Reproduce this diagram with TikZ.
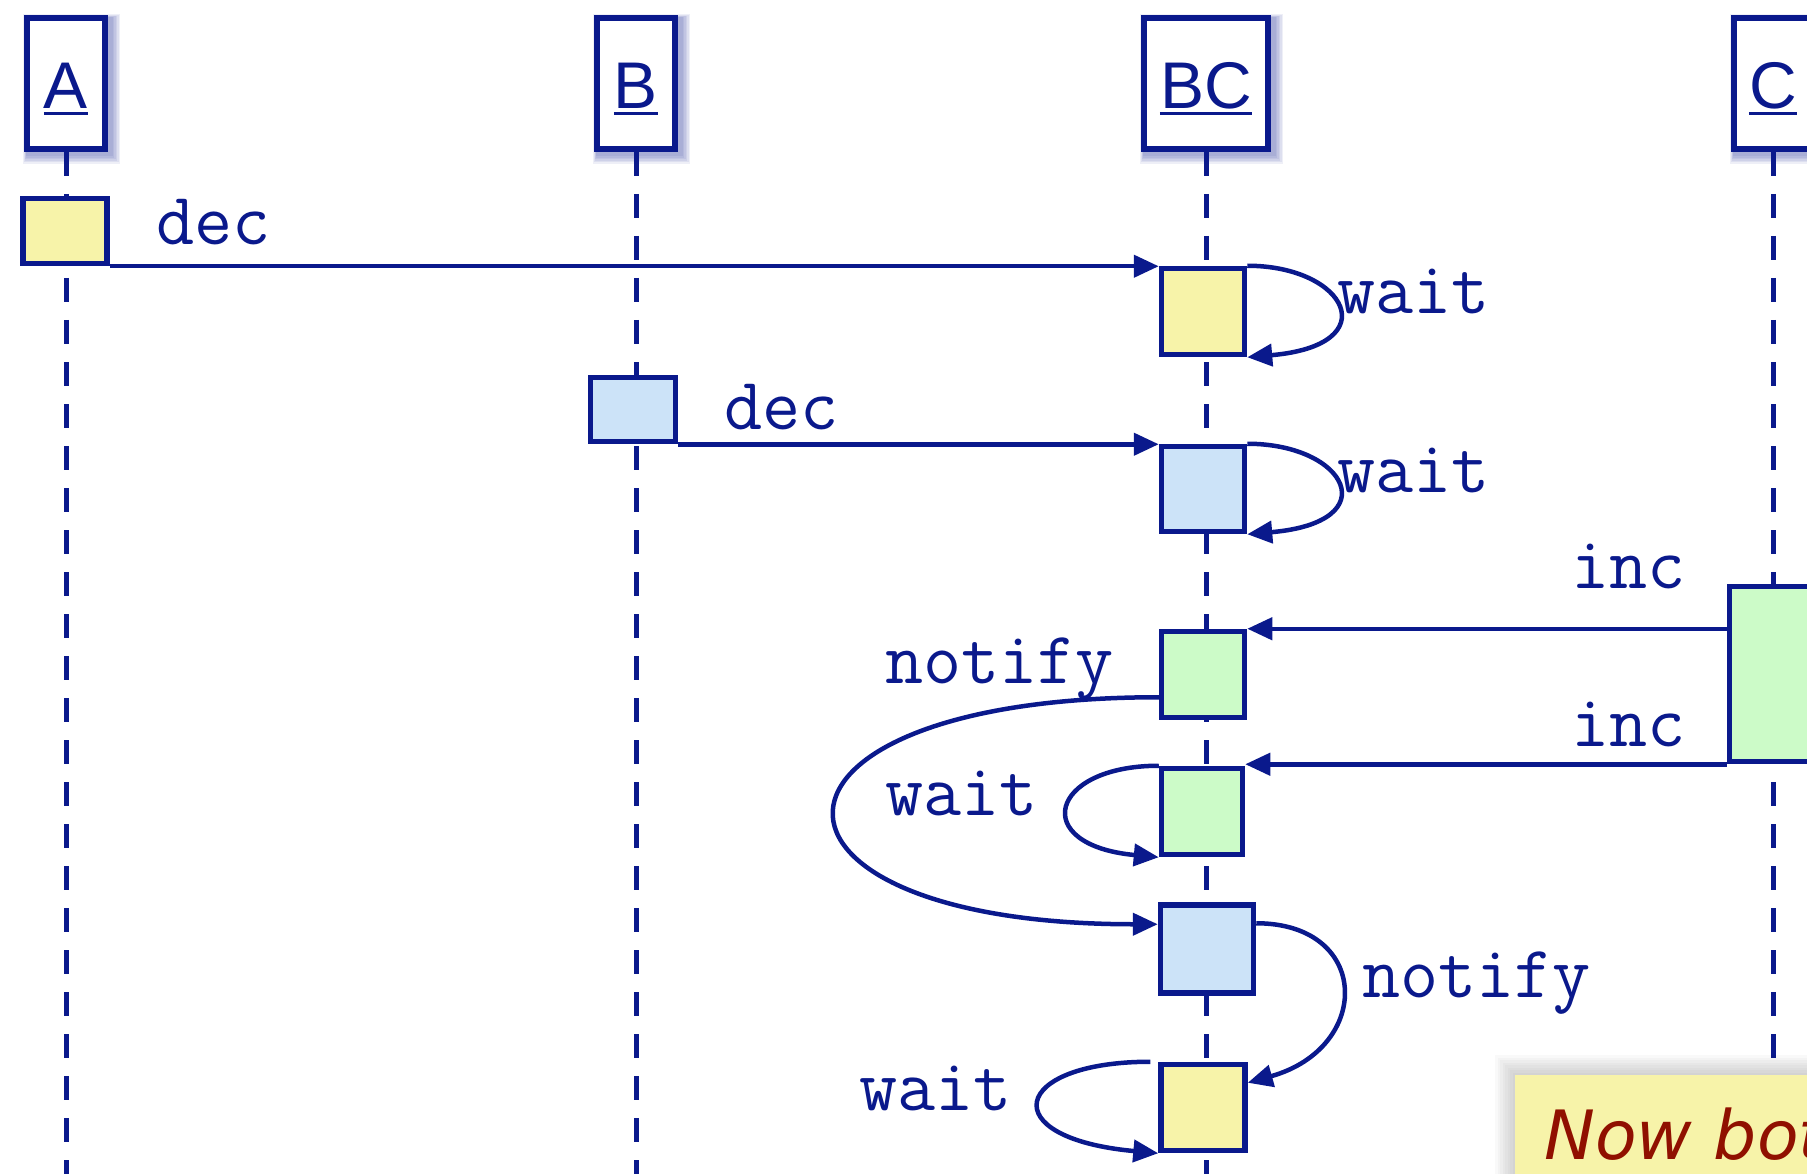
\documentclass[tikz,border=0pt]{standalone}
\usepackage{fontspec}
\newfontfamily\headfont{Liberation Sans}
\newfontfamily\notefont{DejaVu Sans}
\usetikzlibrary{arrows.meta}
\definecolor{navy}{RGB}{10,25,140}
\definecolor{actyellow}{RGB}{247,243,169}
\definecolor{actblue}{RGB}{204,227,248}
\definecolor{actgreen}{RGB}{204,251,200}
\definecolor{notered}{RGB}{144,16,0}
\pgfdeclarelayer{background}
\pgfsetlayers{background,main}
\begin{document}
\begin{tikzpicture}[x=1pt,y=-1pt,
  head/.style={draw=navy, fill=white, line width=6pt, inner sep=0pt},
  headtext/.style={text=navy, font=\headfont\fontsize{66}{70}\selectfont, inner sep=0pt, anchor=base},
  act/.style={draw=navy, line width=5.5pt, inner sep=0pt},
  lifeline/.style={navy, line width=5pt, dash pattern=on 24pt off 18pt},
  msg/.style={navy, line width=4.5pt, -{Triangle[length=25pt,width=22pt]}},
  lbl/.style={text=navy, font=\ttfamily\fontsize{74}{80}\selectfont, inner sep=0pt, anchor=base west}]
\useasboundingbox (0,0) rectangle (1807,1174);
\clip (0,0) rectangle (1807,1174);

% object heads
\node[head, minimum width=78pt, minimum height=131pt] (hA) at (66,83.5) {};
\node[head, minimum width=78pt, minimum height=131pt] (hB) at (636,83.5) {};
\node[head, minimum width=124pt, minimum height=131pt] (hBC) at (1206,83.5) {};
\node[head, minimum width=78pt, minimum height=131pt] (hC) at (1773,83.5) {};
\node[headtext] (tA) at (66,109) {A};
\node[headtext] (tB) at (636,109) {B};
\node[headtext] (tBC) at (1206,109) {BC};
\node[headtext] (tC) at (1773,109) {C};
\foreach \t in {tA,tB,tBC,tC}
  \draw[navy, line width=3pt] ([yshift=-4.5pt]\t.base west) -- ([yshift=-4.5pt]\t.base east);

% activations
\node[act, fill=actyellow, minimum width=84pt, minimum height=65pt] (aA) at (65,231) {};
\node[act, fill=actyellow, minimum width=83pt, minimum height=86pt] (bc1) at (1203,311.5) {};
\node[act, fill=actblue, minimum width=85pt, minimum height=64pt] (bB) at (633,409.5) {};
\node[act, fill=actblue, minimum width=83pt, minimum height=85pt] (bc2) at (1203,489) {};
\node[act, fill=actgreen, minimum width=85pt, minimum height=175pt] (cC) at (1772,674) {};
\node[act, fill=actgreen, minimum width=83pt, minimum height=86pt] (bc3) at (1203,674.5) {};
\node[act, fill=actgreen, minimum width=81pt, minimum height=86pt] (bc4) at (1202,811.5) {};
\node[act, fill=actblue, minimum width=93pt, minimum height=88pt] (bc5) at (1207,949) {};
\node[act, fill=actyellow, minimum width=84pt, minimum height=86pt] (bc6) at (1203,1107.5) {};

% shadows and lifelines underneath
\begin{pgfonlayer}{background}
  \foreach \n in {hA,hB,hBC,hC}{
    \foreach \i in {1,...,6}{
      \fill[navy, opacity=0.07] ([xshift={(3-0.6*\i)*1pt}, yshift={(-3+0.6*\i)*1pt}]\n.north west)
        rectangle ([xshift={(3+1.5*\i)*1pt}, yshift={(-3-1.5*\i)*1pt}]\n.south east);
    }
  }
  \foreach \n in {hA,hB,hBC,hC}
    \draw[lifeline] (\n.south) -- (\n.south |- 0,1180);
\end{pgfonlayer}

% messages
\draw[msg] (aA.south east) -- (aA.south east -| bc1.west);
\draw[msg] (bc1.north east) .. controls +(100,0) and +(140,-12) .. (bc1.south east);
\draw[msg] (bB.south east) -- (bB.south east -| bc2.west);
\draw[msg] (bc2.north east) .. controls +(100,0) and +(140,-12) .. (bc2.south east);
\draw[msg] (cC.west |- bc3.north) -- (bc3.north east);
\draw[msg] (cC.south west) -- (cC.south west -| bc4.east);
\draw[msg] ([yshift=23pt]bc3.south west) .. controls +(-430,0) and +(-430,0) .. ([yshift=-22pt]bc5.north west);
\draw[msg] (bc4.north west) .. controls +(-110,0) and +(-130,-12) .. (bc4.south west);
\draw[msg] ([yshift=-21pt]bc5.north east) .. controls +(115,0) and +(125,-35) .. ([yshift=-21pt]bc6.north east);
\draw[msg] ([xshift=-8pt]bc6.north west) .. controls +(-140,0) and +(-165,-15) .. (bc6.south west);

% message labels
\node[lbl] (l1) at (156,245) {dec};
\node[lbl] (l2) at (1337,313) {wait};
\node[lbl] (l3) at (724,429) {dec};
\node[lbl] (l4) at (1337,492) {wait};
\node[lbl] (l5) at (1571,588) {inc};
\node[lbl] (l6) at (1571,746) {inc};
\node[lbl] (l7) at (885,683) {notify};
\node[lbl] (l8) at (885,815) {wait};
\node[lbl] (l9) at (1362,997) {notify};
\node[lbl] (l10) at (859,1110) {wait};

% note with a soft shadow along its top and left
\foreach \i in {1,...,8}
  \fill[black, opacity=0.022] (1515-2.5*\i,1075-2.5*\i) rectangle (1830,1200);
\fill[actyellow] (1515,1075) rectangle (1830,1200);
\node[text=notered, font=\notefont\itshape\fontsize{68}{72}\selectfont, inner sep=0pt, anchor=base west] (note) at (1544,1159) {Now both};
\end{tikzpicture}
\end{document}
